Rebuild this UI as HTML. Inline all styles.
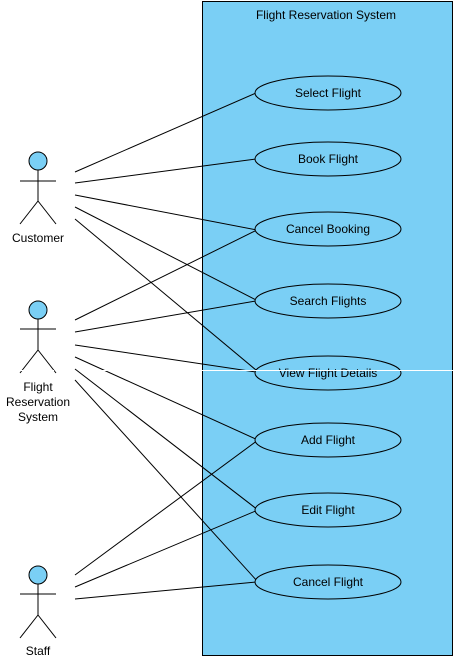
<!DOCTYPE html>
<html><head><style>body{margin:0;background:#fff}svg{display:block}</style></head><body>
<svg width="455" height="660" xmlns="http://www.w3.org/2000/svg" font-family="Liberation Sans, sans-serif" font-size="12">
<rect x="202.5" y="1.5" width="250" height="654" fill="#7ACFF5" stroke="#000"/>
<text x="326" y="19" text-anchor="middle">Flight Reservation System</text>
<g stroke="#000" fill="none">
<line x1="75" y1="172" x2="256" y2="93"/>
<line x1="75" y1="183" x2="256" y2="159"/>
<line x1="75" y1="195" x2="257" y2="230"/>
<line x1="75" y1="207" x2="258" y2="301"/>
<line x1="75" y1="219" x2="256" y2="370"/>
<line x1="75" y1="320" x2="257" y2="230"/>
<line x1="75" y1="332" x2="256" y2="301"/>
<line x1="75" y1="345" x2="256" y2="372"/>
<line x1="75" y1="357" x2="258" y2="440"/>
<line x1="75" y1="369" x2="258" y2="510"/>
<line x1="75" y1="380" x2="258" y2="582"/>
<line x1="75" y1="575" x2="258" y2="440"/>
<line x1="75" y1="587" x2="258" y2="510"/>
<line x1="75" y1="599" x2="256" y2="582"/>
</g>
<g fill="#7ACFF5" stroke="#000">
<ellipse cx="328" cy="93" rx="73" ry="17"/>
<ellipse cx="328" cy="159" rx="73" ry="17"/>
<ellipse cx="328" cy="229" rx="73" ry="17"/>
<ellipse cx="328" cy="301" rx="73" ry="17"/>
<ellipse cx="328" cy="373" rx="73" ry="17"/>
<ellipse cx="328" cy="440" rx="73" ry="17"/>
<ellipse cx="328" cy="510" rx="73" ry="17"/>
<ellipse cx="328" cy="582" rx="73" ry="17"/>
</g>
<g text-anchor="middle">
<text x="328" y="97">Select Flight</text>
<text x="328" y="163">Book Flight</text>
<text x="328" y="233">Cancel Booking</text>
<text x="328" y="305">Search Flights</text>
<text x="328" y="377">View Flight Details</text>
<text x="328" y="444">Add Flight</text>
<text x="328" y="514">Edit Flight</text>
<text x="328" y="586">Cancel Flight</text>
</g>
<g stroke="#000" fill="none">
<circle cx="38" cy="161" r="9" fill="#7ACFF5"/>
<line x1="38" y1="170" x2="38" y2="201"/><line x1="20" y1="181" x2="56" y2="181"/>
<line x1="38" y1="201" x2="20" y2="224"/><line x1="38" y1="201" x2="56" y2="224"/>
<circle cx="38" cy="310" r="9" fill="#7ACFF5"/>
<line x1="38" y1="319" x2="38" y2="350"/><line x1="20" y1="329" x2="56" y2="329"/>
<line x1="38" y1="350" x2="20" y2="373"/><line x1="38" y1="350" x2="56" y2="373"/>
<circle cx="38" cy="575" r="9" fill="#7ACFF5"/>
<line x1="38" y1="584" x2="38" y2="615"/><line x1="20" y1="594" x2="56" y2="594"/>
<line x1="38" y1="615" x2="20" y2="638"/><line x1="38" y1="615" x2="56" y2="638"/>
</g>
<g text-anchor="middle">
<text x="38" y="242">Customer</text>
<text x="38" y="391">Flight</text>
<text x="38" y="406">Reservation</text>
<text x="38" y="421">System</text>
<text x="38" y="655">Staff</text>
</g>
<line x1="196" y1="370.5" x2="455" y2="370.5" stroke="#fff" stroke-width="1"/>
<line x1="0" y1="370.5" x2="196" y2="370.5" stroke="#fff" stroke-width="1" stroke-dasharray="14 6"/>
</svg>
</body></html>
